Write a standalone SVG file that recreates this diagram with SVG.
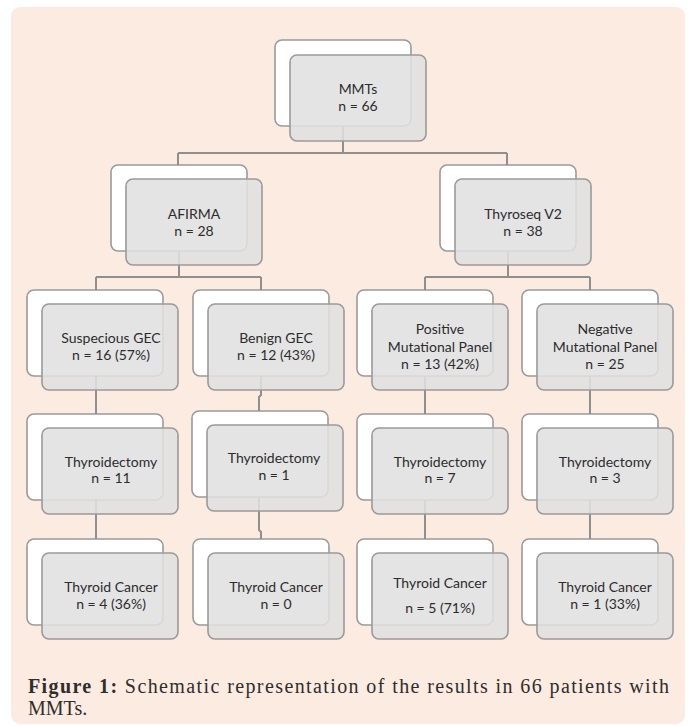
<svg xmlns="http://www.w3.org/2000/svg" width="688" height="726" viewBox="0 0 688 726">
<defs>
<style>
.bg{fill:#fcebe1}
.back{fill:#ffffff;stroke:#9a9a9a;stroke-width:1.6}
.front{fill:#e0e0e0;fill-opacity:0.88;stroke:#9a9a9a;stroke-width:1.6}
.conn{fill:none;stroke:#8f8f8f;stroke-width:2}
.lbl{font-family:Lato,"Liberation Sans",sans-serif;font-size:14px;fill:#2c2c2c;text-anchor:middle}
.cap{font-family:"Liberation Serif",serif;font-size:20px;fill:#2e2e2e}
</style>
</defs>
<rect x="0" y="0" width="688" height="726" fill="#ffffff"/>
<rect class="bg" x="11" y="7" width="674" height="717" rx="9"/>

<g id="back-boxes">
<rect class="back" x="275" y="40" width="136" height="86" rx="7"/>
<rect class="back" x="111" y="165" width="136" height="86" rx="7"/>
<rect class="back" x="440" y="165" width="136" height="86" rx="7"/>
<rect class="back" x="27" y="290" width="136" height="86" rx="7"/>
<rect class="back" x="193" y="290" width="136" height="86" rx="7"/>
<rect class="back" x="357" y="290" width="136" height="86" rx="7"/>
<rect class="back" x="522" y="290" width="136" height="86" rx="7"/>
<rect class="back" x="27" y="414" width="136" height="86" rx="7"/>
<rect class="back" x="192" y="411" width="136" height="86" rx="7"/>
<rect class="back" x="357" y="414" width="136" height="86" rx="7"/>
<rect class="back" x="522" y="414" width="136" height="86" rx="7"/>
<rect class="back" x="27" y="539" width="136" height="86" rx="7"/>
<rect class="back" x="193" y="539" width="136" height="86" rx="7"/>
<rect class="back" x="357" y="539" width="136" height="86" rx="7"/>
<rect class="back" x="522" y="539" width="136" height="86" rx="7"/>
</g>

<g id="connectors">
<path class="conn" d="M343 126 V153 M178 153 H507 M178 153 V165 M507 153 V165"/>
<path class="conn" d="M179 251 V277 M96 277 H261 M96 277 V290 M261 277 V290"/>
<path class="conn" d="M508 251 V277 M425 277 H590 M425 277 V290 M590 277 V290"/>
<path class="conn" d="M96 376 V414"/>
<path class="conn" d="M261 376 V395 L259 397 V411"/>
<path class="conn" d="M425 376 V414"/>
<path class="conn" d="M590 376 V414"/>
<path class="conn" d="M96 500 V539"/>
<path class="conn" d="M259 497 V530 L261 532 V539"/>
<path class="conn" d="M425 500 V539"/>
<path class="conn" d="M590 500 V539"/>
</g>

<g id="n-mmts">
<rect class="front" x="290" y="55" width="136" height="86" rx="7"/>
<text class="lbl" x="358" y="94">MMTs</text>
<text class="lbl" x="358" y="111">n = 66</text>
</g>
<g id="n-afirma">
<rect class="front" x="126" y="179" width="136" height="86" rx="7"/>
<text class="lbl" x="194" y="219">AFIRMA</text>
<text class="lbl" x="194" y="236">n = 28</text>
</g>
<g id="n-thyroseq">
<rect class="front" x="455" y="179" width="136" height="86" rx="7"/>
<text class="lbl" x="523" y="219">Thyroseq V2</text>
<text class="lbl" x="523" y="236">n = 38</text>
</g>
<g id="n-suspecious">
<rect class="front" x="42" y="304" width="136" height="86" rx="7"/>
<text class="lbl" x="111" y="343">Suspecious GEC</text>
<text class="lbl" x="111" y="360">n = 16 (57%)</text>
</g>
<g id="n-benign">
<rect class="front" x="208" y="304" width="136" height="86" rx="7"/>
<text class="lbl" x="276" y="343">Benign GEC</text>
<text class="lbl" x="276" y="360">n = 12 (43%)</text>
</g>
<g id="n-positive">
<rect class="front" x="372" y="304" width="136" height="86" rx="7"/>
<text class="lbl" x="440" y="334">Positive</text>
<text class="lbl" x="440" y="352">Mutational Panel</text>
<text class="lbl" x="440" y="369">n = 13 (42%)</text>
</g>
<g id="n-negative">
<rect class="front" x="537" y="304" width="136" height="86" rx="7"/>
<text class="lbl" x="605" y="334">Negative</text>
<text class="lbl" x="605" y="352">Mutational Panel</text>
<text class="lbl" x="605" y="369">n = 25</text>
</g>
<g id="n-thy1">
<rect class="front" x="42" y="428" width="136" height="86" rx="7"/>
<text class="lbl" x="111" y="467">Thyroidectomy</text>
<text class="lbl" x="111" y="483">n = 11</text>
</g>
<g id="n-thy2">
<rect class="front" x="207" y="425" width="136" height="86" rx="7"/>
<text class="lbl" x="274" y="463">Thyroidectomy</text>
<text class="lbl" x="274" y="480">n = 1</text>
</g>
<g id="n-thy3">
<rect class="front" x="372" y="428" width="136" height="86" rx="7"/>
<text class="lbl" x="440" y="467">Thyroidectomy</text>
<text class="lbl" x="440" y="483">n = 7</text>
</g>
<g id="n-thy4">
<rect class="front" x="537" y="428" width="136" height="86" rx="7"/>
<text class="lbl" x="605" y="467">Thyroidectomy</text>
<text class="lbl" x="605" y="483">n = 3</text>
</g>
<g id="n-can1">
<rect class="front" x="42" y="553" width="136" height="86" rx="7"/>
<text class="lbl" x="111" y="592">Thyroid Cancer</text>
<text class="lbl" x="111" y="609">n = 4 (36%)</text>
</g>
<g id="n-can2">
<rect class="front" x="208" y="553" width="136" height="86" rx="7"/>
<text class="lbl" x="276" y="592">Thyroid Cancer</text>
<text class="lbl" x="276" y="609">n = 0</text>
</g>
<g id="n-can3">
<rect class="front" x="372" y="553" width="136" height="86" rx="7"/>
<text class="lbl" x="440" y="588">Thyroid Cancer</text>
<text class="lbl" x="440" y="613">n = 5 (71%)</text>
</g>
<g id="n-can4">
<rect class="front" x="537" y="553" width="136" height="86" rx="7"/>
<text class="lbl" x="605" y="592">Thyroid Cancer</text>
<text class="lbl" x="605" y="609">n = 1 (33%)</text>
</g>

<g id="caption">
<text class="cap" x="28" y="693" textLength="641" lengthAdjust="spacing"><tspan font-weight="bold">Figure 1:</tspan> Schematic representation of the results in 66 patients with</text>
<text class="cap" x="28" y="715">MMTs.</text>
</g>
</svg>
